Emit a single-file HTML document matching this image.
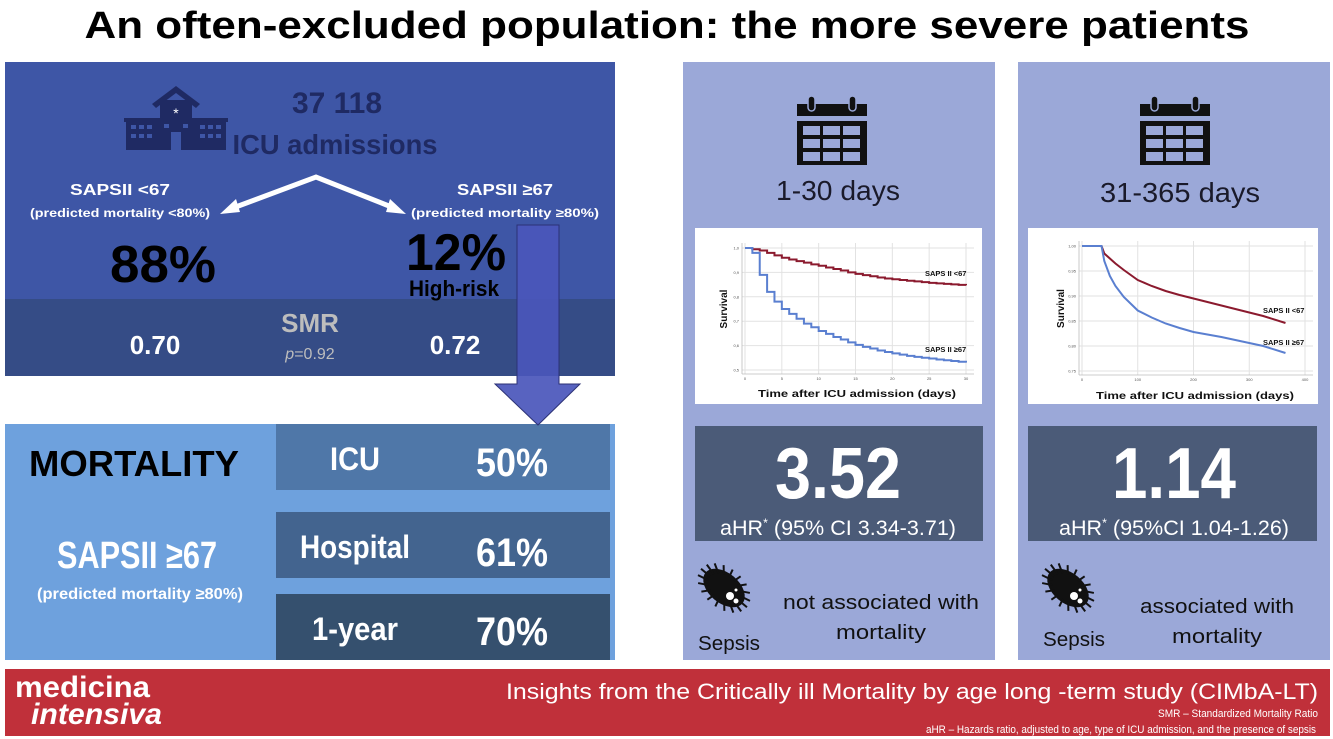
<!DOCTYPE html>
<html><head><meta charset="utf-8"><style>
html,body{margin:0;padding:0;background:#fff;width:1333px;height:739px;overflow:hidden}
svg{display:block;font-family:"Liberation Sans",sans-serif}
</style></head><body>
<svg id="root" width="1333" height="739" viewBox="0 0 1333 739">
<text x="667" y="38" text-anchor="middle" font-size="38" font-weight="bold" textLength="1165" lengthAdjust="spacingAndGlyphs">An often-excluded population: the more severe patients</text>

<!-- top-left panel -->
<g>
<rect x="5" y="62" width="610" height="237" fill="#3e56a6"/>
<rect x="5" y="299" width="610" height="77" fill="#354c86"/>
<g fill="#1f2a63">
<polygon points="152,104 176,86 200,104 196,108 176,93 156,108"/>
<rect x="160" y="100" width="32" height="20"/>
<rect x="124" y="118" width="104" height="4"/>
<rect x="126" y="120" width="100" height="30"/>
</g>
<g fill="#3e56a6">
<rect x="131" y="125" width="5" height="4"/><rect x="139" y="125" width="5" height="4"/><rect x="147" y="125" width="5" height="4"/><rect x="200" y="125" width="5" height="4"/><rect x="208" y="125" width="5" height="4"/><rect x="216" y="125" width="5" height="4"/>
<rect x="131" y="134" width="5" height="4"/><rect x="139" y="134" width="5" height="4"/><rect x="147" y="134" width="5" height="4"/><rect x="200" y="134" width="5" height="4"/><rect x="208" y="134" width="5" height="4"/><rect x="216" y="134" width="5" height="4"/>
<rect x="164" y="124" width="5" height="4"/><rect x="183" y="124" width="5" height="4"/>
<rect x="171" y="132" width="10" height="18"/>
</g>
<text x="176" y="118" text-anchor="middle" font-size="14" fill="#fff">*</text>
<text x="337" y="113" text-anchor="middle" font-size="30" font-weight="bold" fill="#1f2a63">37 118</text>
<text x="335" y="154" text-anchor="middle" font-size="28" font-weight="bold" fill="#1f2a63" textLength="205" lengthAdjust="spacingAndGlyphs">ICU admissions</text>
<polyline points="233,208 316,177 394,208" fill="none" stroke="#fff" stroke-width="5"/>
<polygon points="220,214 236,199 240,212" fill="#fff"/>
<polygon points="406,214 390,199 386,212" fill="#fff"/>
<text x="120" y="195" text-anchor="middle" font-size="16" font-weight="bold" fill="#fff" textLength="100" lengthAdjust="spacingAndGlyphs">SAPSII &lt;67</text>
<text x="120" y="217" text-anchor="middle" font-size="12" font-weight="bold" fill="#fff" textLength="180" lengthAdjust="spacingAndGlyphs">(predicted mortality &lt;80%)</text>
<text x="163" y="282" text-anchor="middle" font-size="52" font-weight="bold" fill="#000" textLength="106" lengthAdjust="spacingAndGlyphs">88%</text>
<text x="505" y="195" text-anchor="middle" font-size="16" font-weight="bold" fill="#fff" textLength="96" lengthAdjust="spacingAndGlyphs">SAPSII ≥67</text>
<text x="505" y="217" text-anchor="middle" font-size="12" font-weight="bold" fill="#fff" textLength="188" lengthAdjust="spacingAndGlyphs">(predicted mortality ≥80%)</text>
<text x="456" y="270" text-anchor="middle" font-size="52" font-weight="bold" fill="#000" textLength="100" lengthAdjust="spacingAndGlyphs">12%</text>
<text x="454" y="296" text-anchor="middle" font-size="22" font-weight="bold" fill="#000" textLength="90" lengthAdjust="spacingAndGlyphs">High-risk</text>
<text x="310" y="332" text-anchor="middle" font-size="26" font-weight="bold" fill="#bdbdbd">SMR</text>
<text x="310" y="359" text-anchor="middle" font-size="16" fill="#bdbdbd"><tspan font-style="italic">p</tspan>=0.92</text>
<text x="155" y="354" text-anchor="middle" font-size="26" font-weight="bold" fill="#fff">0.70</text>
<text x="455" y="354" text-anchor="middle" font-size="26" font-weight="bold" fill="#fff">0.72</text>
</g>

<!-- bottom-left panel -->
<g>
<rect x="5" y="424" width="610" height="236" fill="#6ea1dd"/>
<rect x="276" y="424" width="334" height="66" fill="#4f77a8"/>
<rect x="276" y="512" width="334" height="66" fill="#43648f"/>
<rect x="276" y="594" width="334" height="66" fill="#35506e"/>
<text x="134" y="476" text-anchor="middle" font-size="36" font-weight="bold" fill="#000" textLength="210" lengthAdjust="spacingAndGlyphs">MORTALITY</text>
<text x="137" y="568" text-anchor="middle" font-size="38" font-weight="bold" fill="#fff" textLength="160" lengthAdjust="spacingAndGlyphs">SAPSII ≥67</text>
<text x="140" y="599" text-anchor="middle" font-size="16" font-weight="bold" fill="#fff" textLength="206" lengthAdjust="spacingAndGlyphs">(predicted mortality ≥80%)</text>
<text x="355" y="470" text-anchor="middle" font-size="32" font-weight="bold" fill="#fff" textLength="50" lengthAdjust="spacingAndGlyphs">ICU</text>
<text x="512" y="476" text-anchor="middle" font-size="40" font-weight="bold" fill="#fff" textLength="72" lengthAdjust="spacingAndGlyphs">50%</text>
<text x="355" y="558" text-anchor="middle" font-size="32" font-weight="bold" fill="#fff" textLength="110" lengthAdjust="spacingAndGlyphs">Hospital</text>
<text x="512" y="566" text-anchor="middle" font-size="40" font-weight="bold" fill="#fff" textLength="72" lengthAdjust="spacingAndGlyphs">61%</text>
<text x="355" y="640" text-anchor="middle" font-size="32" font-weight="bold" fill="#fff" textLength="86" lengthAdjust="spacingAndGlyphs">1-year</text>
<text x="512" y="645" text-anchor="middle" font-size="40" font-weight="bold" fill="#fff" textLength="72" lengthAdjust="spacingAndGlyphs">70%</text>
</g>

<!-- down arrow -->
<polygon points="517,225 559,225 559,384 580,384 538,425 495,384 517,384" fill="#4a56bb" fill-opacity="0.92" stroke="#2c3275" stroke-width="1"/>

<!-- right panels -->
<rect x="683" y="62" width="312" height="598" fill="#9ba8d8"/>
<rect x="1018" y="62" width="312" height="598" fill="#9ba8d8"/>

<g id="cal1"></g>
<g id="cal2"></g>
<text x="838" y="200" text-anchor="middle" font-size="28" fill="#1a1a2a" textLength="124" lengthAdjust="spacingAndGlyphs">1-30 days</text>
<text x="1180" y="202" text-anchor="middle" font-size="28" fill="#1a1a2a" textLength="160" lengthAdjust="spacingAndGlyphs">31-365 days</text>

<rect x="695" y="228" width="287" height="176" fill="#fff"/>
<rect x="1028" y="228" width="290" height="176" fill="#fff"/>
<g id="chart1"></g>
<g id="chart2"></g>

<rect x="695" y="426" width="288" height="115" fill="#4b5b78"/>
<rect x="1028" y="426" width="289" height="115" fill="#4b5b78"/>
<text x="838" y="498" text-anchor="middle" font-size="72" font-weight="bold" fill="#fff" textLength="126" lengthAdjust="spacingAndGlyphs">3.52</text>
<text x="838" y="535" text-anchor="middle" font-size="21" fill="#fff" textLength="236" lengthAdjust="spacingAndGlyphs">aHR<tspan font-size="12" dy="-8">*</tspan><tspan dy="8"> (95% CI 3.34-3.71)</tspan></text>
<text x="1174" y="498" text-anchor="middle" font-size="72" font-weight="bold" fill="#fff" textLength="124" lengthAdjust="spacingAndGlyphs">1.14</text>
<text x="1174" y="535" text-anchor="middle" font-size="21" fill="#fff" textLength="230" lengthAdjust="spacingAndGlyphs">aHR<tspan font-size="12" dy="-8">*</tspan><tspan dy="8"> (95%CI 1.04-1.26)</tspan></text>

<g id="bug1"></g>
<g id="bug2"></g>
<text x="729" y="650" text-anchor="middle" font-size="20" fill="#111" textLength="62" lengthAdjust="spacingAndGlyphs">Sepsis</text>
<text x="1074" y="646" text-anchor="middle" font-size="20" fill="#111" textLength="62" lengthAdjust="spacingAndGlyphs">Sepsis</text>
<text x="881" y="609" text-anchor="middle" font-size="20" fill="#111" textLength="196" lengthAdjust="spacingAndGlyphs">not associated with</text>
<text x="881" y="639" text-anchor="middle" font-size="20" fill="#111" textLength="90" lengthAdjust="spacingAndGlyphs">mortality</text>
<text x="1217" y="613" text-anchor="middle" font-size="20" fill="#111" textLength="154" lengthAdjust="spacingAndGlyphs">associated with</text>
<text x="1217" y="643" text-anchor="middle" font-size="20" fill="#111" textLength="90" lengthAdjust="spacingAndGlyphs">mortality</text>

<!-- footer -->
<g>
<rect x="5" y="669" width="1325" height="67" fill="#c0303a"/>
<text x="15" y="697" font-size="30" font-weight="bold" fill="#fff" textLength="135" lengthAdjust="spacingAndGlyphs">medicina</text>
<text x="31" y="724" font-size="30" font-weight="bold" font-style="italic" fill="#fff" textLength="131" lengthAdjust="spacingAndGlyphs">intensiva</text>
<text x="1318" y="699" text-anchor="end" font-size="22" fill="#fff" textLength="812" lengthAdjust="spacingAndGlyphs">Insights from the Critically ill Mortality by age long -term study (CIMbA-LT)</text>
<text x="1318" y="717" text-anchor="end" font-size="11" fill="#fff" textLength="160" lengthAdjust="spacingAndGlyphs">SMR – Standardized Mortality Ratio</text>
<text x="1316" y="733" text-anchor="end" font-size="11" fill="#fff" textLength="390" lengthAdjust="spacingAndGlyphs">aHR – Hazards ratio, adjusted to age, type of ICU admission, and the presence of sepsis</text>
</g>
</svg>
<script>
// ---- chart data ----
const shortDays = [0,1,2,3,4,5,6,7,8,9,10,11,12,13,14,15,16,17,18,19,20,21,22,23,24,25,26,27,28,29,30];
const shortLow  = [1.0,0.995,0.99,0.98,0.97,0.96,0.953,0.946,0.94,0.933,0.927,0.92,0.914,0.908,0.9,0.894,0.889,0.884,0.879,0.875,0.872,0.869,0.866,0.863,0.86,0.857,0.855,0.853,0.851,0.849,0.847];
const shortHigh = [1.0,0.98,0.89,0.82,0.78,0.75,0.73,0.71,0.69,0.675,0.66,0.648,0.635,0.625,0.613,0.603,0.595,0.588,0.58,0.574,0.568,0.563,0.558,0.554,0.55,0.547,0.543,0.54,0.537,0.534,0.53];
const shortYTicks = ["1,0","0,9","0,8","0,7","0,6","0,5"];
const shortXTicks = ["0","5","10","15","20","25","30"];
const longDays = [0,35,40,50,60,75,100,125,150,175,200,225,250,275,300,325,365];
const longLow  = [1,1,0.985,0.975,0.965,0.952,0.932,0.92,0.91,0.902,0.895,0.888,0.881,0.874,0.867,0.86,0.846];
const longHigh = [1,1,0.97,0.94,0.92,0.898,0.871,0.857,0.845,0.836,0.828,0.823,0.818,0.812,0.806,0.8,0.786];
const longYTicks = ["1,00","0,95","0,90","0,85","0,80","0,75"];
const longXTicks = ["0","100","200","300","400"];

const NS = "http://www.w3.org/2000/svg";
function mk(parent, tag, attrs){const e=document.createElementNS(NS,tag);for(const k in attrs)e.setAttribute(k,attrs[k]);parent.appendChild(e);return e;}

function drawChart(g, cfg){
  const sx = v => cfg.x0 + (v - cfg.xmin)/(cfg.xmax - cfg.xmin)*(cfg.x1 - cfg.x0);
  const sy = v => cfg.y0 + (cfg.ymax - v)/(cfg.ymax - cfg.ymin)*(cfg.y1 - cfg.y0);
  const nY = cfg.yTicks.length;
  cfg.yTicks.forEach((t,i)=>{
    const v = cfg.ymax - i*(cfg.ymax-cfg.ymin)/(nY-1);
    mk(g,"line",{x1:cfg.x0-3,x2:cfg.x1+8,y1:sy(v),y2:sy(v),stroke:"#e2e2e2","stroke-width":1});
    const tx=mk(g,"text",{x:cfg.x0-6,y:sy(v)+1.5,"text-anchor":"end","font-size":4,fill:"#555"});
    tx.textContent=t;
  });
  const nX = cfg.xTicks.length;
  cfg.xTicks.forEach((t,i)=>{
    const v = cfg.xmin + i*(cfg.xmax-cfg.xmin)/(nX-1);
    mk(g,"line",{x1:sx(v),x2:sx(v),y1:cfg.y0-5,y2:cfg.y1+4,stroke:"#e2e2e2","stroke-width":1});
    const tx=mk(g,"text",{x:sx(v),y:cfg.y1+10,"text-anchor":"middle","font-size":4,fill:"#555"});
    tx.textContent=t;
  });
  mk(g,"line",{x1:cfg.x0-3,x2:cfg.x1+8,y1:cfg.y1+4,y2:cfg.y1+4,stroke:"#bbb","stroke-width":0.8});
  mk(g,"line",{x1:cfg.x0-3,x2:cfg.x0-3,y1:cfg.y0-5,y2:cfg.y1+4,stroke:"#bbb","stroke-width":0.8});
  function curve(xs, ys, color, name){
    let d = "M"+sx(xs[0])+","+sy(ys[0]);
    for(let i=1;i<xs.length;i++){
      if(cfg.step) d += " H"+sx(xs[i])+" V"+sy(ys[i]);
      else d += " L"+sx(xs[i])+","+sy(ys[i]);
    }
    const p = mk(g,"path",{d:d,fill:"none",stroke:color,"stroke-width":2});
    
    
  }
  curve(cfg.xs, cfg.low, "#8b1a2e", "low-saps-curve");
  curve(cfg.xs, cfg.high, "#5a7fd0", "high-saps-curve");
  const l1=mk(g,"text",{x:cfg.labelX,y:cfg.l1y,"font-size":cfg.lfs,"font-weight":"bold",fill:"#111"});
  l1.textContent="SAPS II <67";
  
  
  const l2=mk(g,"text",{x:cfg.labelX,y:cfg.l2y,"font-size":cfg.lfs,"font-weight":"bold",fill:"#111"});
  l2.textContent="SAPS II ≥67";
  
  
  const yl=mk(g,"text",{x:0,y:0,"font-size":10,"font-weight":"bold",fill:"#111","text-anchor":"middle",transform:"translate("+(cfg.x0-18)+","+((cfg.y0+cfg.y1)/2)+") rotate(-90)"});
  yl.textContent="Survival";
  
  
  const xl=mk(g,"text",{x:cfg.xlX,y:cfg.xlY,"font-size":10,"font-weight":"bold",fill:"#111","text-anchor":"middle",textLength:198,lengthAdjust:"spacingAndGlyphs"});
  xl.textContent="Time after ICU admission (days)";
  
  
}
drawChart(document.getElementById("chart1"),{x0:745,x1:966,y0:248,y1:370,xmin:0,xmax:30,ymin:0.5,ymax:1.0,step:true,
  xs:shortDays,low:shortLow,high:shortHigh,yTicks:shortYTicks,xTicks:shortXTicks,labelX:925,l1y:276,l2y:352,lfs:7.5,xlX:857,xlY:397});
drawChart(document.getElementById("chart2"),{x0:1082,x1:1305,y0:246,y1:371,xmin:0,xmax:400,ymin:0.75,ymax:1.0,step:false,
  xs:longDays,low:longLow,high:longHigh,yTicks:longYTicks,xTicks:longXTicks,labelX:1263,l1y:313,l2y:345,lfs:7.5,xlX:1195,xlY:399});

function calendar(g, cx){
  mk(g,"rect",{x:cx-35,y:104,width:70,height:12,fill:"#111"});
  mk(g,"rect",{x:cx-35,y:121,width:70,height:44,fill:"#111"});
  mk(g,"rect",{x:cx-24,y:96,width:7,height:15,rx:3.5,fill:"#111",stroke:"#9ba8d8","stroke-width":1.5});
  mk(g,"rect",{x:cx+17,y:96,width:7,height:15,rx:3.5,fill:"#111",stroke:"#9ba8d8","stroke-width":1.5});
  for(let r=0;r<3;r++)for(let c=0;c<3;c++)
    mk(g,"rect",{x:cx-29+c*20,y:126+r*13,width:17,height:9,fill:"#9ba8d8"});
}
calendar(document.getElementById("cal1"),832);
calendar(document.getElementById("cal2"),1175);

function bug(g, cx, cy){
  mk(g,"ellipse",{cx:cx,cy:cy,rx:24,ry:15,fill:"#111",transform:"rotate(40 "+cx+" "+cy+")"});
  for(let i=0;i<18;i++){
    const a=i/18*Math.PI*2;
    mk(g,"line",{x1:cx+Math.cos(a)*18,y1:cy+Math.sin(a)*12,x2:cx+Math.cos(a)*30,y2:cy+Math.sin(a)*20,stroke:"#111","stroke-width":2,transform:"rotate(40 "+cx+" "+cy+")"});
  }
  mk(g,"circle",{cx:cx+6,cy:cy+8,r:4,fill:"#fff"});
  mk(g,"circle",{cx:cx+12,cy:cy+13,r:2.5,fill:"#fff"});
  mk(g,"circle",{cx:cx+12,cy:cy+2,r:1.5,fill:"#fff"});
}
bug(document.getElementById("bug1"),724,588);
bug(document.getElementById("bug2"),1068,588);
</script>
</body></html>
